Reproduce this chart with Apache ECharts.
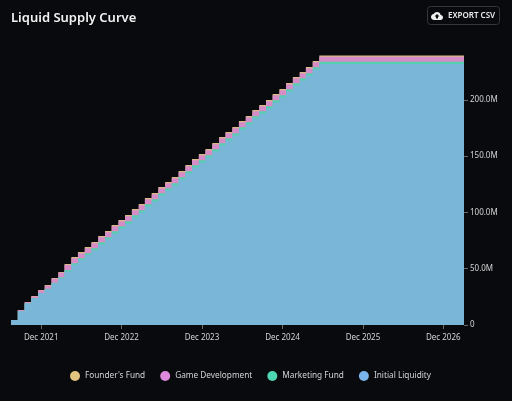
<!DOCTYPE html>
<html>
<head>
<meta charset="utf-8">
<title>Liquid Supply Curve</title>
<script src="https://cdn.jsdelivr.net/npm/echarts@6/dist/echarts.min.js"></script>
<style>
  html, body { margin: 0; padding: 0; background: #090a0d; }
  #chart { width: 512px; height: 401px; }
</style>
</head>
<body>
<div id="chart"></div>
<script>
// Monthly unlock dates; the last entry only closes the plateau at the axis end.
const unlockDates = [
  '2021-07-17','2021-08-17','2021-09-17','2021-10-17','2021-11-17','2021-12-17',
  '2022-01-17','2022-02-17','2022-03-17','2022-04-17','2022-05-17','2022-06-17','2022-07-17','2022-08-17','2022-09-17','2022-10-17','2022-11-17','2022-12-17',
  '2023-01-17','2023-02-17','2023-03-17','2023-04-17','2023-05-17','2023-06-17','2023-07-17','2023-08-17','2023-09-17','2023-10-17','2023-11-17','2023-12-17',
  '2024-01-17','2024-02-17','2024-03-17','2024-04-17','2024-05-17','2024-06-17','2024-07-17','2024-08-17','2024-09-17','2024-10-17','2024-11-17','2024-12-17',
  '2025-01-17','2025-02-17','2025-03-17','2025-04-17','2025-05-17','2027-03-05'
];

// Circulating tokens in millions, one array per allocation.
const initialLiquidity = [
  4.4,12.5,19.1,23.9,28.4,31.8,37.0,41.5,47.6,53.5,57.7,62.1,66.4,71.6,76.1,81.3,85.8,90.2,
  95.5,100.0,105.3,109.7,115.1,119.5,123.9,129.3,134.6,139.9,144.4,148.8,154.1,159.5,163.9,168.3,173.7,178.1,
  183.4,187.9,192.3,197.7,202.1,207.4,212.7,217.2,221.6,227.0,231.8,231.8
];
const marketingFund = [
  0,0,0,0,0,0.3,0.6,0.9,1.2,1.4,1.6,1.7,1.8,1.9,1.9,2.0,2.0,2.0,
  2.0,2.0,2.0,2.0,2.0,2.0,2.0,2.0,2.0,2.0,2.0,2.0,2.0,2.0,2.0,2.0,2.0,2.0,
  2.0,2.0,2.0,2.0,2.0,2.0,2.0,2.0,2.0,2.0,2.0,2.0
];
const gameDevelopment = [
  0,0.6,1.0,1.5,2.2,2.8,3.4,3.9,4.4,4.4,4.4,4.4,4.4,4.4,4.4,4.4,4.4,4.4,
  4.4,4.4,4.4,4.4,4.4,4.4,4.4,4.4,4.4,4.4,4.4,4.4,4.4,4.4,4.4,4.4,4.4,4.4,
  4.4,4.4,4.4,4.4,4.4,4.4,4.4,4.4,4.4,4.4,4.4,4.4
];
const foundersFund = [
  0,0.2,0.3,0.4,0.5,0.6,0.7,0.8,1.0,1.1,1.1,1.1,1.1,1.1,1.1,1.1,1.1,1.1,
  1.1,1.1,1.1,1.1,1.1,1.1,1.1,1.1,1.1,1.1,1.1,1.1,1.1,1.1,1.1,1.1,1.1,1.1,
  1.1,1.1,1.1,1.1,1.1,1.1,1.1,1.1,1.1,1.1,1.1,1.1
];

const legendNames = ["Founder's Fund", 'Game Development', 'Marketing Fund', 'Initial Liquidity'];
const yearTicks = ['2021-12-01','2022-12-01','2023-12-01','2024-12-01','2025-12-01','2026-12-01'];
const yTicks = [0, 50, 100, 150, 200];
const monthNames = ['Jan','Feb','Mar','Apr','May','Jun','Jul','Aug','Sep','Oct','Nov','Dec'];

const textFont = '"Noto Sans", sans-serif';
const toTime = d => new Date(d + 'T00:00:00').getTime();
const tickTimes = yearTicks.map(toTime);

// Cloud-upload glyph for the export button.
echarts.graphic.registerShape('cloudUpload', echarts.graphic.extendPath(
  'M19.35 10.04C18.67 6.59 15.64 4 12 4 9.11 4 6.6 5.64 5.35 8.04 2.34 8.36 0 10.91 0 14c0 3.31 2.69 6 6 6h13c2.76 0 5-2.24 5-5 0-2.64-2.05-4.78-4.65-4.96zM14 13v4h-4v-4H7l5-5 5 5h-3z',
  {}
));

// The x axis is numeric, so layers are summed here and painted from the tallest down.
const layerOf = (...parts) => unlockDates.map((d, i) =>
  [toTime(d), parts.reduce((sum, part) => sum + part[i], 0)]);

function areaSeries(name, points, swatch, fill) {
  return {
    name: name,
    type: 'line',
    step: 'end',
    showSymbol: false,
    symbol: 'none',
    silent: true,
    animation: false,
    lineStyle: { width: 0 },
    itemStyle: { color: swatch },
    areaStyle: { color: fill, opacity: 1 },
    data: points
  };
}

const chart = echarts.init(document.getElementById('chart'), null, { renderer: 'canvas' });
chart.setOption({
  backgroundColor: '#090a0d',
  animation: false,
  title: {
    text: 'Liquid Supply Curve',
    left: 6,
    top: 7,
    textStyle: { color: '#f2f2f2', fontFamily: textFont, fontSize: 13, fontWeight: 600 }
  },
  legend: {
    data: legendNames,
    left: 65,
    top: 366,
    icon: 'circle',
    itemWidth: 10,
    itemHeight: 10,
    itemGap: 15,
    textStyle: { color: '#d4d4d4', fontFamily: textFont, fontSize: 8.25 }
  },
  grid: { left: 11, width: 453, top: 54.76, height: 270.24 },
  xAxis: {
    type: 'value',
    min: toTime(unlockDates[0]),
    max: toTime(unlockDates[unlockDates.length - 1]),
    splitLine: { show: false },
    axisLine: { show: false },
    axisTick: { show: true, length: 4, customValues: tickTimes, lineStyle: { color: '#6a6a6a' } },
    axisLabel: {
      customValues: tickTimes,
      color: '#d4d4d4',
      fontFamily: textFont,
      fontSize: 8,
      margin: 9,
      formatter: v => {
        const d = new Date(v);
        return monthNames[d.getMonth()] + ' ' + d.getFullYear();
      }
    }
  },
  yAxis: {
    type: 'value',
    position: 'right',
    min: 0,
    max: 240,
    splitLine: { show: false },
    axisLine: { show: false },
    axisTick: { show: true, length: 4, customValues: yTicks, lineStyle: { color: '#6a6a6a' } },
    axisLabel: {
      customValues: yTicks,
      color: '#d4d4d4',
      fontFamily: textFont,
      fontSize: 8,
      margin: 6,
      formatter: v => (v === 0 ? '0' : v.toFixed(1) + 'M')
    }
  },
  series: [
    areaSeries("Founder's Fund", layerOf(initialLiquidity, marketingFund, gameDevelopment, foundersFund), '#e3c47f', '#d9b988'),
    areaSeries('Game Development', layerOf(initialLiquidity, marketingFund, gameDevelopment), '#dd8add', '#d68cc6'),
    areaSeries('Marketing Fund', layerOf(initialLiquidity, marketingFund), '#4dd6b2', '#55cfae'),
    areaSeries('Initial Liquidity', layerOf(initialLiquidity), '#7ab4ec', '#7ab6d7')
  ],
  graphic: [
    {
      type: 'rect',
      shape: { x: 427.5, y: 6.5, width: 72, height: 18, r: 3 },
      style: { fill: 'transparent', stroke: '#34363a', lineWidth: 1 }
    },
    {
      type: 'cloudUpload',
      x: 431,
      y: 10,
      scaleX: 0.5,
      scaleY: 0.5,
      style: { fill: '#f0f0f0' }
    },
    {
      type: 'text',
      x: 448,
      y: 11.5,
      style: { text: 'EXPORT CSV', fill: '#eaeaea', font: '600 8px ' + textFont }
    }
  ]
});
</script>
</body>
</html>
